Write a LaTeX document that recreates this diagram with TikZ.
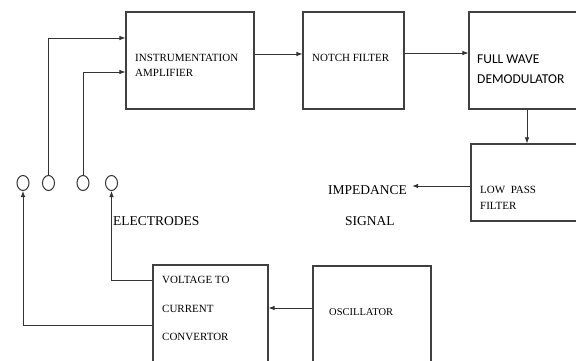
\documentclass[tikz,border=0pt]{standalone}
\usepackage{fontspec}
\setmainfont{Liberation Serif}
\newfontfamily\calibrifont{Carlito}
\usetikzlibrary{shapes.geometric,arrows.meta}

\begin{document}
\begin{tikzpicture}[x=1pt,y=-1pt,
    box/.style={shape=rectangle,draw=black!75,line width=1.1pt,inner sep=0pt},
    elec/.style={shape=ellipse,draw=black!80,line width=1pt,minimum width=12pt,minimum height=15pt,inner sep=0pt},
    txt/.style={anchor=base west,inner sep=0pt,text=black,font=\fontsize{11}{13}\selectfont},
    bigtxt/.style={txt,font=\fontsize{13.5}{16}\selectfont},
    wire/.style={draw=black!80,line width=0.8pt,-{Latex[length=6pt,width=4.5pt]}}]

    \path[use as bounding box,fill=white] (0,0) rectangle (576,360);

    % blocks
    \node[box,minimum width=128pt,minimum height=97pt] (amp) at (190,60.5) {};
    \node[box,minimum width=101pt,minimum height=97pt] (notch) at (353.5,60.5) {};
    \node[box,minimum width=116pt,minimum height=97pt] (demod) at (527,60.5) {};
    \node[box,minimum width=112pt,minimum height=77pt] (lpf) at (527,182.5) {};
    \node[box,minimum width=115pt,minimum height=100pt] (vic) at (210.5,315) {};
    \node[box,minimum width=118pt,minimum height=99pt] (osc) at (372,315.5) {};

    % electrodes
    \node[elec] (e1) at (23,183) {};
    \node[elec] (e2) at (48.5,183) {};
    \node[elec] (e3) at (83,183) {};
    \node[elec] (e4) at (111.5,183) {};

    % texts
    \node[txt] (ampA) at (135,61) {INSTRUMENTATION};
    \node[txt] (ampB) at (135,76) {AMPLIFIER};
    \node[txt] (notchA) at (312,61) {NOTCH FILTER};
    \node[txt,font=\calibrifont\fontsize{13.5}{16}\selectfont] (demodA) at (477,63) {FULL WAVE};
    \node[txt,font=\calibrifont\fontsize{13.5}{16}\selectfont] (demodB) at (477,83) {DEMODULATOR};
    \node[txt] (lpfA) at (480,193) {LOW\ \ PASS};
    \node[txt] (lpfB) at (480,209) {FILTER};
    \node[bigtxt] (imp) at (328,194) {IMPEDANCE};
    \node[bigtxt] (sig) at (345,225) {SIGNAL};
    \node[bigtxt] (elabel) at (113,225) {ELECTRODES};
    \node[txt] (vicA) at (162,283) {VOLTAGE TO};
    \node[txt] (vicB) at (162,312) {CURRENT};
    \node[txt] (vicC) at (162,340) {CONVERTOR};
    \node[txt,font=\fontsize{10.5}{12}\selectfont] (oscA) at (329,315) {OSCILLATOR};

    % connectors
    \draw[wire] (e2.north) |- ([yshift=22.5pt]amp.west);
    \draw[wire] (e3.north) |- ([yshift=-11.5pt]amp.west);
    \draw[wire] ([yshift=6.5pt]amp.east) -- ([yshift=6.5pt]notch.west);
    \draw[wire] ([yshift=7.5pt]notch.east) -- ([yshift=7.5pt]demod.west);
    \draw[wire] (demod.south) -- (lpf.north);
    \draw[wire] ([yshift=-3.5pt]lpf.west) -- ([yshift=-3.5pt,xshift=5pt]lpf.west -| imp.east);
    \draw[wire] ([yshift=7.5pt]osc.west) -- ([yshift=7.5pt]osc.west -| vic.east);
    \draw[wire] ([yshift=35pt]vic.west) -| (e4.south);
    \draw[wire] ([yshift=-10pt]vic.west) -| (e1.south);
\end{tikzpicture}
\end{document}
